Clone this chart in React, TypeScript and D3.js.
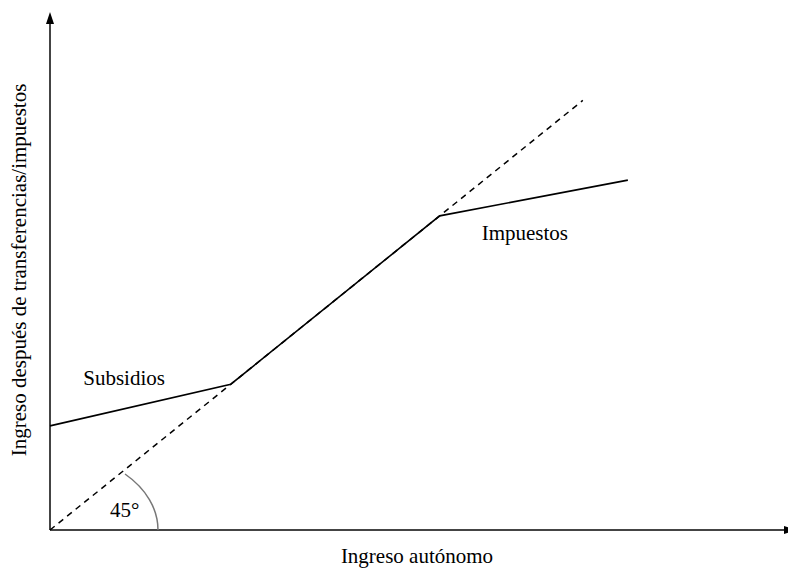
import React from "react";
import * as d3 from "d3";

// Data (abstract income units)
const diagonal = [ { x: 0, y: 0 }, { x: 72.2, y: 72.2 } ];
const incomeAfter = [
  { x: 0, y: 17.5 },
  { x: 24.5, y: 24.5 },
  { x: 52.8, y: 52.8 },
  { x: 78.3, y: 58.8 },
];
const labels = [
  { text: "Subsidios", x: 4.5, y: 24.4 },
  { text: "Impuestos", x: 58.5, y: 48.8 },
];
const xTitle = "Ingreso autónomo";
const yTitle = "Ingreso después de transferencias/impuestos";
const angleLabel = "45°";

const W = 788;
const H = 568;

export default function App() {
  const x = d3.scaleLinear().domain([0, 100]).range([50, 788]);
  const y = d3.scaleLinear().domain([0, 87.06]).range([530, 12]);
  const line = d3
    .line<{ x: number; y: number }>()
    .x((d) => x(d.x))
    .y((d) => y(d.y));

  const ox = x(0);
  const oy = y(0);
  const rx = 108;
  const ry = 77.8;
  const sx = ox + 75;
  const sy = oy - 56;
  const fam = "Tinos, 'Liberation Serif', 'Times New Roman', Times, 'DejaVu Serif', serif";

  return (
    <div style={{ position: "absolute", left: 0, top: 0 }}>
      <svg width={W} height={H} style={{ display: "block" }} fontFamily={fam} fontSize={21}>
        <rect width={W} height={H} fill="#fff" />
        {/* axes */}
        <line x1={ox} y1={oy} x2={ox} y2={22} stroke="#444" strokeWidth={2} />
        <path d={`M${ox - 4},${24} L${ox},${12} L${ox + 4},${24} Z`} fill="#000" />
        <line x1={ox} y1={oy} x2={785} y2={oy} stroke="#444" strokeWidth={2} />
        <path d={`M784,${oy - 4} L796,${oy} L784,${oy + 4} Z`} fill="#000" />
        {/* 45 degree line */}
        <path
          d={line(diagonal) || ""}
          fill="none"
          stroke="#000"
          strokeWidth={1.5}
          strokeDasharray="6,5"
        />
        {/* income after transfers/taxes */}
        <path d={line(incomeAfter) || ""} fill="none" stroke="#000" strokeWidth={1.6} />
        {/* angle arc */}
        <path
          d={`M${sx},${sy} A${rx},${ry} 0 0 1 ${ox + rx},${oy}`}
          fill="none"
          stroke="#777"
          strokeWidth={1.5}
        />
        <text x={110} y={517} fill="#000">
          {angleLabel}
        </text>
        {labels.map((l) => (
          <text key={l.text} x={x(l.x)} y={y(l.y)} fill="#000">
            {l.text}
          </text>
        ))}
        <text x={417} y={563} textAnchor="middle" fill="#000">
          {xTitle}
        </text>
        <text transform={`translate(26,270) rotate(-90)`} textAnchor="middle" fill="#000">
          {yTitle}
        </text>
      </svg>
    </div>
  );
}
